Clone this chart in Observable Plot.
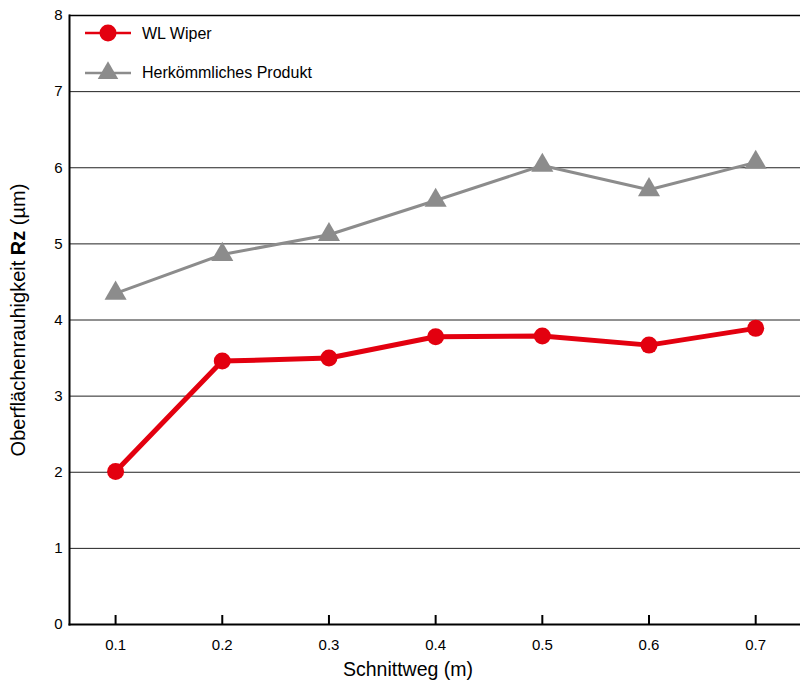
<!DOCTYPE html>
<html>
<head>
<meta charset="utf-8">
<script src="https://cdn.jsdelivr.net/npm/d3@7"></script>
<script src="https://cdn.jsdelivr.net/npm/@observablehq/plot@0.6"></script>
<style>
  html, body { margin: 0; padding: 0; background: #fff; }
  #chart { width: 800px; height: 682px; }
  svg { font-family: "Liberation Sans", Arial, sans-serif; }
</style>
</head>
<body>
<div id="chart"></div>
<script>
const schnittweg = [0.1, 0.2, 0.3, 0.4, 0.5, 0.6, 0.7];
const wlWiper = [2.01, 3.46, 3.50, 3.78, 3.79, 3.67, 3.89];
const herkoemmlich = [4.35, 4.86, 5.12, 5.57, 6.03, 5.71, 6.07];
const yTicks = [0, 1, 2, 3, 4, 5, 6, 7, 8];
const gridValues = [1, 2, 3, 4, 5, 6, 7];
const seriesNames = ["WL Wiper", "Herkömmliches Produkt"];
const xLabel = "Schnittweg (m)";
const yLabelParts = ["Oberflächenrauhigkeit ", "Rz", " (µm)"];

const RED = "#e3000f";
const GRAY = "#8c8c8c";

const wl = schnittweg.map((x, i) => ({x, y: wlWiper[i]}));
const hk = schnittweg.map((x, i) => ({x, y: herkoemmlich[i]}));

const chart = Plot.plot({
  width: 800,
  height: 682,
  marginLeft: 69,
  marginRight: 0,
  marginTop: 15,
  marginBottom: 58,
  style: {fontFamily: "'Liberation Sans', Arial, sans-serif", fontSize: "15px", color: "#000", background: "#fff"},
  x: {domain: [0.0568, 0.742]},
  y: {domain: [0, 8]},
  marks: [
    Plot.ruleY(gridValues, {stroke: "#222", strokeWidth: 1}),
    Plot.ruleY([8], {stroke: "#000", strokeWidth: 1.6}),
    Plot.axisY({ticks: yTicks, tickSize: 0, tickPadding: 7, label: null, fontSize: 15}),
    Plot.axisX({ticks: schnittweg, tickSize: 9, dy: -9, tickFormat: () => "", label: null, stroke: "#000", strokeWidth: 2}),
    Plot.axisX({ticks: schnittweg, tickSize: 0, tickPadding: 15, tickFormat: d => d.toFixed(1), label: null, fontSize: 15}),
    Plot.frame({anchor: "left", stroke: "#000", strokeWidth: 2}),
    Plot.frame({anchor: "bottom", stroke: "#000", strokeWidth: 2}),
    Plot.line(hk, {x: "x", y: "y", stroke: GRAY, strokeWidth: 3}),
    Plot.dot(hk, {x: "x", y: "y", symbol: "triangle", r: 8.2, fill: GRAY, stroke: "none"}),
    Plot.line(wl, {x: "x", y: "y", stroke: RED, strokeWidth: 5}),
    Plot.dot(wl, {x: "x", y: "y", r: 8.5, fill: RED, stroke: "none"})
  ]
});

document.getElementById("chart").appendChild(chart);

const svg = d3.select(chart);
// x axis title
svg.append("text")
  .attr("x", 408).attr("y", 676)
  .attr("text-anchor", "middle")
  .attr("font-size", 19.5)
  .attr("fill", "#000")
  .text(xLabel);

// y axis title with bold Rz
const yt = svg.append("text")
  .attr("transform", "translate(25,320) rotate(-90)")
  .attr("text-anchor", "middle")
  .attr("font-size", 20)
  .attr("fill", "#000");
yt.append("tspan").text(yLabelParts[0]);
yt.append("tspan").attr("font-weight", "bold").text(yLabelParts[1]);
yt.append("tspan").text(yLabelParts[2]);

// legend
const lg = svg.append("g").attr("text-anchor", "start");
const sym = [d3.symbolCircle, d3.symbolTriangle];
const cols = [RED, GRAY];
const widths = [2.5, 2.5];
const sizes = [Math.PI * 8.5 * 8.5, Math.PI * 7.6 * 7.6];
const rowY = [33, 73];
seriesNames.forEach((name, i) => {
  const cy = rowY[i];
  lg.append("line").attr("x1", 85).attr("x2", 131).attr("y1", cy).attr("y2", cy)
    .attr("stroke", cols[i]).attr("stroke-width", widths[i]);
  lg.append("path").attr("transform", `translate(108,${cy})`)
    .attr("d", d3.symbol(sym[i], sizes[i])()).attr("fill", cols[i]);
  lg.append("text").attr("x", 142).attr("y", cy - (i ? 1 : 0)).attr("dy", "0.35em")
    .attr("text-anchor", "start")
    .attr("font-size", 16).attr("fill", "#000").text(name);
});
</script>
</body>
</html>
